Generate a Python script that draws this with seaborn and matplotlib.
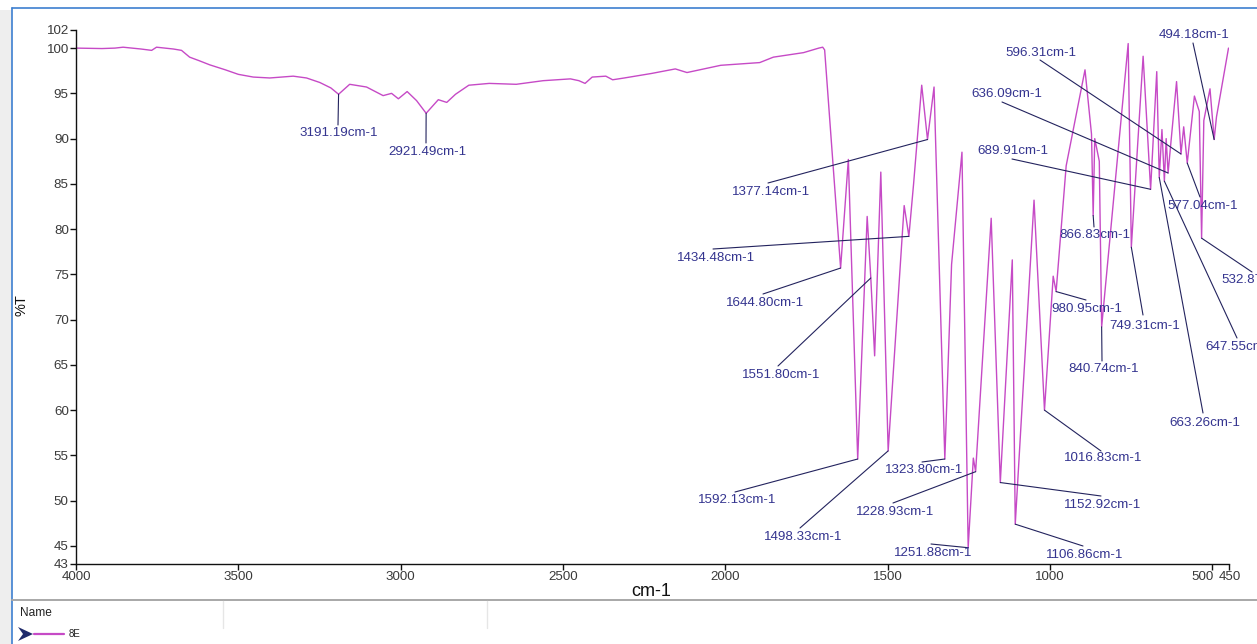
import matplotlib
matplotlib.use("Agg")
import matplotlib.pyplot as plt
import matplotlib.transforms as mtransforms
import seaborn as sns
import pandas as pd
from matplotlib.patches import Polygon, Rectangle
from matplotlib.lines import Line2D

# ---------------- data ----------------
wavenumber = [4000, 3920, 3880, 3855, 3800, 3767, 3752, 3700, 3675, 3650, 3620, 3588,
              3540, 3500, 3454, 3403, 3331, 3290, 3249, 3215, 3191.19, 3157, 3105, 3054,
              3028, 3007, 2980, 2951, 2921.49, 2884, 2858, 2831, 2790, 2727, 2644, 2561,
              2477, 2451, 2432, 2410, 2368, 2347, 2311, 2227, 2154, 2118, 2014, 1894,
              1852, 1759, 1712, 1700, 1694, 1644.80, 1621, 1592.13, 1563, 1551.80, 1540,
              1521, 1498.33, 1449, 1434.48, 1420, 1395, 1377.14, 1357, 1323.80, 1303,
              1271, 1251.88, 1236, 1228.93, 1181, 1152.92, 1116, 1106.86, 1049, 1016.83,
              990, 980.95, 950, 892, 872, 866.83, 862, 848, 840.74, 759, 749.31, 713,
              689.91, 671, 663.26, 655, 647.55, 642, 636.09, 610, 596.31, 588, 577.04,
              555, 540, 532.87, 526, 507, 494.18, 487, 450]
transmittance = [100.0, 99.95, 100.0, 100.1, 99.9, 99.75, 100.1, 99.9, 99.75, 99.0, 98.6, 98.15,
                 97.6, 97.1, 96.8, 96.7, 96.9, 96.7, 96.2, 95.6, 94.9, 96.0, 95.7, 94.75,
                 95.0, 94.4, 95.2, 94.2, 92.8, 94.3, 94.0, 94.9, 95.9, 96.1, 96.0, 96.4,
                 96.6, 96.4, 96.1, 96.8, 96.9, 96.5, 96.7, 97.2, 97.7, 97.3, 98.1, 98.4,
                 99.0, 99.5, 100.0, 100.1, 99.8, 75.7, 87.7, 54.6, 81.4, 74.6, 66.0,
                 86.3, 55.5, 82.6, 79.2, 85.0, 95.9, 89.9, 95.7, 54.6, 76.1,
                 88.5, 44.8, 54.7, 53.2, 81.2, 52.0, 76.6, 47.4, 83.2, 60.0,
                 74.8, 73.1, 87.0, 97.6, 90.5, 81.5, 90.0, 87.5, 69.2, 100.5, 78.0, 99.1,
                 84.4, 97.4, 85.7, 91.0, 85.3, 90.0, 86.2, 96.3, 88.3, 91.3, 87.3,
                 94.7, 93.0, 79.0, 92.0, 95.5, 89.9, 92.4, 100.0]

peak_wn = [3191.19, 2921.49, 1377.14, 1434.48, 1644.80, 1551.80, 1592.13, 1498.33,
           1323.80, 1228.93, 1251.88, 1152.92, 1106.86, 1016.83, 980.95, 866.83,
           840.74, 749.31, 689.91, 663.26, 647.55, 636.09, 596.31, 577.04, 532.87, 494.18]
peak_T = [94.9, 92.8, 89.9, 79.2, 75.7, 74.6, 54.6, 55.5,
          54.6, 53.2, 44.8, 52.0, 47.4, 60.0, 73.1, 81.5,
          69.2, 78.0, 84.4, 85.7, 85.3, 86.2, 88.3, 87.3, 79.0, 89.9]

x_ticks = [4000, 3500, 3000, 2500, 2000, 1500, 1000, 500, 450]
y_ticks = [43, 45, 50, 55, 60, 65, 70, 75, 80, 85, 90, 95, 100, 102]
series_name = "8E"

# ---------------- layout (image pixel positions of the label texts and leader starts) ----
label_center = [(339, 133), (427, 152), (771, 192), (716, 258), (765, 303), (781, 375),
                (737, 500), (803, 537), (924, 470), (895, 512), (933, 553), (1103, 505),
                (1085, 555), (1103, 458), (1087, 309), (1095, 235), (1104, 369),
                (1145, 326), (1013, 151), (1205, 423), (1241, 347), (1007, 94),
                (1041, 53), (1203, 206), (1257, 280), (1194, 35)]
leader_start = [(338, 125), (426, 143), (768, 183), (713, 249), (763, 294), (778, 366),
                (735, 492), (800, 528), (922, 462), (893, 503), (931, 544), (1101, 496),
                (1083, 546), (1101, 451), (1086, 300), (1094, 227), (1102, 361),
                (1143, 315), (1012, 159), (1203, 413), (1237, 338), (1002, 102),
                (1040, 60), (1200, 197), (1252, 272), (1193, 43)]

W, H = 1257, 644
curve_color = "#c64ac6"
label_color = "#34348f"
leader_color = "#23235e"

sns.set_theme(style="white")
plt.rcParams["font.family"] = ["Liberation Sans", "DejaVu Sans"]

fig = plt.figure(figsize=(W / 100, H / 100), dpi=100)
fig.patch.set_facecolor("white")


def fx(x):
    return x / W


def fy(y):
    return 1 - y / H


# window frame
fig.add_artist(Rectangle((0, 0), fx(12), fy(10), transform=fig.transFigure,
                         facecolor="#eeeeee", edgecolor="none", zorder=0))
fig.add_artist(Line2D([fx(12), 1], [fy(8), fy(8)], transform=fig.transFigure,
                      color="#3d7fd0", lw=1.2))
fig.add_artist(Line2D([fx(12), fx(12)], [fy(8), 0], transform=fig.transFigure,
                      color="#3d7fd0", lw=1.2))
fig.add_artist(Line2D([fx(12), 1], [fy(600), fy(600)], transform=fig.transFigure,
                      color="#a8a8a8", lw=1.4))
for sx in (223, 487):
    fig.add_artist(Line2D([fx(sx), fx(sx)], [fy(601), fy(628)], transform=fig.transFigure,
                          color="#e6e6e6", lw=1.0))
fig.text(fx(20), fy(613), "Name", fontsize=8.6, color="#222222", ha="left", va="center")
fig.add_artist(Polygon([(fx(18), fy(627)), (fx(33), fy(634)), (fx(18), fy(641)), (fx(23), fy(634))],
                       closed=True, transform=fig.transFigure, facecolor="#1f2a6b",
                       edgecolor="none"))
fig.add_artist(Line2D([fx(34), fx(64)], [fy(634), fy(634)], transform=fig.transFigure,
                      color=curve_color, lw=1.6))
fig.text(fx(69), fy(634), series_name, fontsize=7, color="#222222", ha="left", va="center")

# plot area
ax = fig.add_axes([fx(76), fy(564), (1228.5 - 76) / W, (564 - 30) / H])
ax.patch.set_alpha(0)

df = pd.DataFrame({"wn": wavenumber, "T": transmittance})
sns.lineplot(data=df, x="wn", y="T", sort=False, estimator=None, color=curve_color,
             lw=1.0, ax=ax, legend=False)

ax.set_xlim(4000, 450)
ax.set_ylim(43, 102)
ax.set_xticks(x_ticks)
ax.set_xticklabels([str(t) for t in x_ticks])
ax.set_yticks(y_ticks)
ax.set_yticklabels([str(t) for t in y_ticks])
for s in ("top", "right"):
    ax.spines[s].set_visible(False)
for s in ("left", "bottom"):
    ax.spines[s].set_color("#111111")
    ax.spines[s].set_linewidth(1.0)
ax.tick_params(axis="both", direction="out", length=4, width=1, color="#111111",
               labelsize=9.6, labelcolor="#3a3a3a", pad=1.2)
ax.tick_params(axis="y", left=True)
ax.tick_params(axis="x", bottom=True)
ax.grid(False)

# separate the crowded "500" and "450" tick labels as in the reference
for lab in ax.get_xticklabels():
    if lab.get_text() == "500":
        lab.set_transform(lab.get_transform() + mtransforms.ScaledTranslation(-10 / 100, 0, fig.dpi_scale_trans))
    elif lab.get_text() == "450":
        lab.set_transform(lab.get_transform() + mtransforms.ScaledTranslation(1 / 100, 0, fig.dpi_scale_trans))

ax.set_xlabel("cm-1", fontsize=13, color="#111111")
ax.xaxis.label.set_va("center")
ax.xaxis.set_label_coords((651 - 76) / 1152.5, -(592 - 564) / 534)
ax.set_ylabel("%T", fontsize=10.5, color="#111111")
ax.yaxis.label.set_va("center")
ax.yaxis.set_label_coords(-(76 - 22) / 1152.5, (564 - 305) / 534)

# peak labels with leader lines
for wn, t, (cx, cy), (sx, sy) in zip(peak_wn, peak_T, label_center, leader_start):
    ax.annotate("", xy=(wn, t), xycoords="data", xytext=(fx(sx), fy(sy)),
                textcoords="figure fraction", annotation_clip=False,
                arrowprops=dict(arrowstyle="-", color=leader_color, lw=0.8,
                                shrinkA=0, shrinkB=0))
    fig.text(fx(cx), fy(cy), f"{wn:.2f}cm-1", fontsize=9.6, color=label_color,
             ha="center", va="center")

fig.savefig("out.png", dpi=100)
